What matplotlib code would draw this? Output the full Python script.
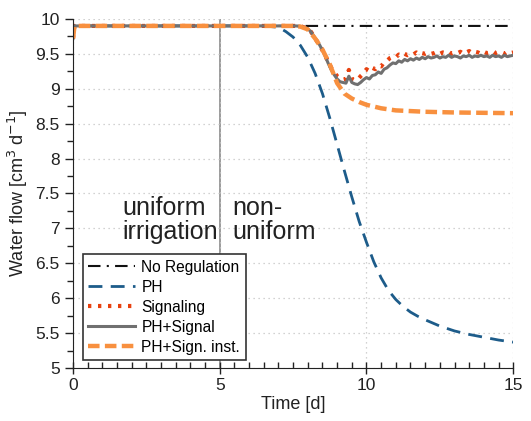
import matplotlib
matplotlib.use("Agg")
import matplotlib.pyplot as plt
from matplotlib.ticker import MultipleLocator

plt.rcParams['font.family'] = ['Liberation Sans', 'DejaVu Sans']

# ---- data ----
t_noreg = [0.0, 0.05, 15.0]
v_noreg = [9.72, 9.9, 9.9]

t_ph = [0.0, 0.05, 6.5, 7.0, 7.25, 7.5, 7.75, 8.0, 8.25, 8.5, 8.75, 9.0, 9.25, 9.5,
        9.75, 10.0, 10.25, 10.5, 10.75, 11.0, 11.25, 11.5, 11.75, 12.0, 12.5, 13.0,
        13.5, 14.0, 14.5, 15.0]
v_ph = [9.72, 9.9, 9.9, 9.88, 9.82, 9.74, 9.62, 9.45, 9.22, 8.93, 8.58, 8.2, 7.82, 7.45,
        7.1, 6.8, 6.52, 6.29, 6.11, 5.98, 5.88, 5.8, 5.74, 5.69, 5.6, 5.53,
        5.48, 5.44, 5.4, 5.37]

t_inst = [0.0, 0.05, 7.5, 7.75, 8.0, 8.25, 8.5, 8.75, 9.0, 9.25, 9.5, 9.75, 10.0,
          10.5, 11.0, 11.5, 12.0, 13.0, 14.0, 15.0]
v_inst = [9.72, 9.9, 9.9, 9.89, 9.85, 9.72, 9.56, 9.35, 9.08, 8.93, 8.86, 8.81, 8.77,
          8.72, 8.69, 8.68, 8.67, 8.66, 8.655, 8.65]

t_start = [0.0, 0.05, 7.6, 7.8]
v_start = [9.72, 9.9, 9.9, 9.89]
t_noisy = [round(8.0 + 0.1 * i, 1) for i in range(71)]
v_signal = [9.86, 9.82, 9.76, 9.69, 9.63, 9.55, 9.46, 9.36, 9.27, 9.2,
            9.14, 9.1, 9.09, 9.08, 9.18, 9.09, 9.07, 9.06, 9.09, 9.13,
            9.16, 9.14, 9.19, 9.2, 9.24, 9.22, 9.28, 9.3, 9.34, 9.37,
            9.36, 9.4, 9.38, 9.42, 9.4, 9.43, 9.41, 9.44, 9.42, 9.45,
            9.43, 9.46, 9.44, 9.45, 9.47, 9.44, 9.46, 9.45, 9.48, 9.45,
            9.47, 9.46, 9.44, 9.47, 9.46, 9.48, 9.45, 9.47, 9.46, 9.48,
            9.46, 9.47, 9.45, 9.48, 9.46, 9.47, 9.45, 9.48, 9.46, 9.47, 9.48]
v_signaling = [9.86, 9.82, 9.76, 9.69, 9.63, 9.55, 9.47, 9.38, 9.3, 9.24,
               9.18, 9.15, 9.13, 9.14, 9.27, 9.14, 9.12, 9.13, 9.18, 9.22,
               9.28, 9.25, 9.3, 9.28, 9.33, 9.32, 9.38, 9.4, 9.44, 9.46,
               9.45, 9.49, 9.47, 9.5, 9.48, 9.5, 9.49, 9.52, 9.49, 9.51,
               9.5, 9.52, 9.5, 9.51, 9.53, 9.5, 9.52, 9.51, 9.53, 9.5,
               9.52, 9.51, 9.53, 9.5, 9.52, 9.54, 9.51, 9.53, 9.52, 9.5,
               9.53, 9.51, 9.52, 9.54, 9.51, 9.53, 9.52, 9.5, 9.53, 9.51, 9.52]

labels = ["No Regulation", "PH", "Signaling", "PH+Signal", "PH+Sign. inst."]

# ---- plot ----
fig = plt.figure(figsize=(5.31, 4.21), dpi=100)
ax = fig.add_axes([0.1375, 0.126, 0.829, 0.829])

ax.plot(t_noreg, v_noreg, color='#111111', lw=1.5, ls=(0, (6, 3, 1, 3)), label=labels[0])
ax.plot(t_ph, v_ph, color='#1d5c8a', lw=2.0, ls=(0, (5, 3)), label=labels[1])
ax.plot(t_start + t_noisy, v_start + v_signaling, color='#e8410f', lw=3.0,
        ls=(0, (0.8, 1.6)), label=labels[2])
ax.plot(t_start + t_noisy, v_start + v_signal, color='#707070', lw=2.2, label=labels[3])
ax.plot(t_inst, v_inst, color='#f8903f', lw=3.2, ls=(0, (2.6, 1.2)), label=labels[4])

ax.axvline(5, color='#8a8a8a', lw=1.2, zorder=1)

ax.text(1.67, 7.46, "uniform\nirrigation", fontsize=18, color='#222222',
        va='top', ha='left', linespacing=1.0)
ax.text(5.42, 7.46, "non-\nuniform", fontsize=18, color='#222222',
        va='top', ha='left', linespacing=1.0)

ax.set_xlim(0, 15)
ax.set_ylim(5, 10)
ax.xaxis.set_major_locator(MultipleLocator(5))
ax.xaxis.set_minor_locator(MultipleLocator(0.5))
ax.yaxis.set_major_locator(MultipleLocator(0.5))
ax.yaxis.set_minor_locator(MultipleLocator(0.25))
ax.set_yticks([5, 5.5, 6, 6.5, 7, 7.5, 8, 8.5, 9, 9.5, 10])
ax.set_yticklabels(['5', '5.5', '6', '6.5', '7', '7.5', '8', '8.5', '9', '9.5', '10'])

ax.tick_params(axis='x', which='major', direction='inout', length=8, width=1, labelsize=12.5, colors='#222222')
ax.tick_params(axis='x', which='minor', direction='in', length=4, width=1, colors='#222222')
ax.tick_params(axis='y', which='major', direction='out', length=6, width=1, labelsize=12.5, colors='#222222')
ax.tick_params(axis='y', which='minor', direction='out', length=4, width=1, colors='#222222')

ax.grid(True, which='major', color='#c4c4c4', ls=(0, (1, 3)), lw=0.9)
for s in ['top', 'right']:
    ax.spines[s].set_visible(False)
for s in ['left', 'bottom']:
    ax.spines[s].set_color('#222222')

ax.set_xlabel("Time [d]", fontsize=13, color='#222222', labelpad=2)
ax.set_ylabel("Water flow [cm$^3$ d$^{-1}$]", fontsize=13, color='#222222', labelpad=4)

leg = ax.legend(loc='lower left', bbox_to_anchor=(0.005, 0.0), fontsize=11.2,
                frameon=True, fancybox=False, edgecolor='#333333', framealpha=1,
                handlelength=3.0, handletextpad=0.4, borderpad=0.35, labelspacing=0.32)
leg.get_frame().set_linewidth(1.2)

fig.savefig("out.png", dpi=100)
